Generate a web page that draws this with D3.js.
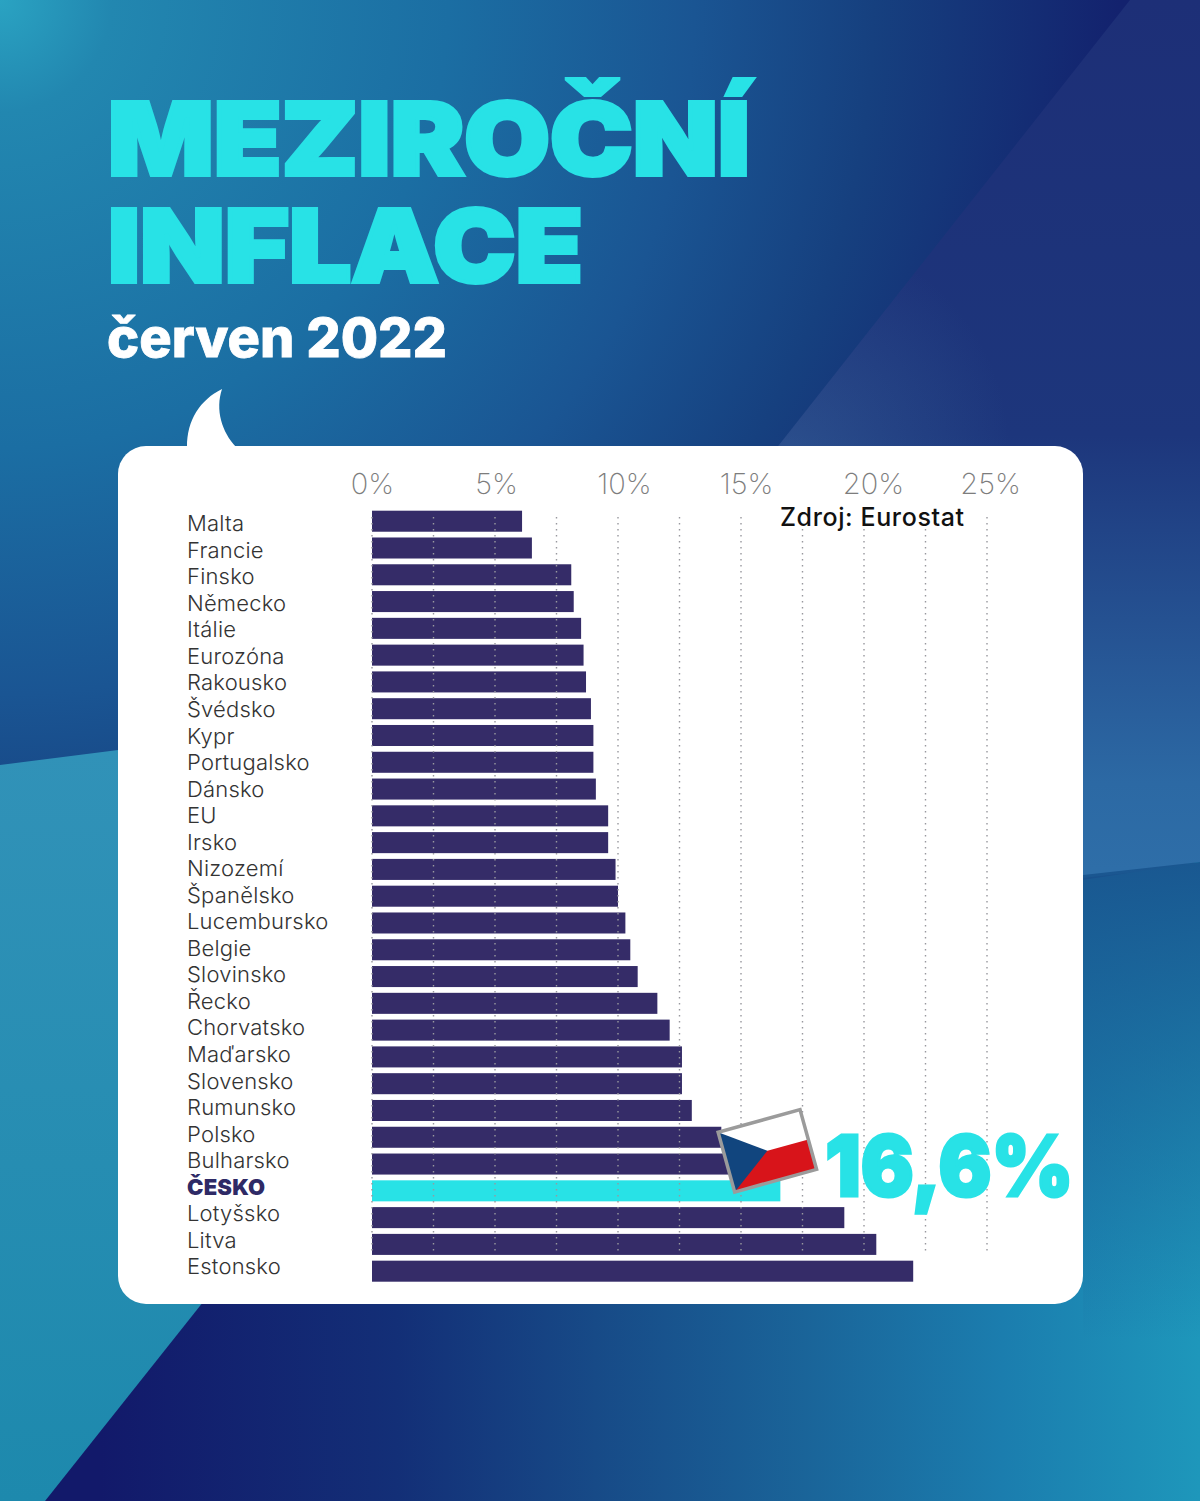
<!DOCTYPE html>
<html>
<head>
<meta charset="utf-8">
<script src="https://cdn.jsdelivr.net/npm/d3@7"></script>
<style>
  html, body { margin: 0; padding: 0; background: #fff; }
  svg { display: block; }
</style>
</head>
<body>
<svg></svg>
<script>
var countries = ["Malta","Francie","Finsko","Německo","Itálie","Eurozóna","Rakousko","Švédsko","Kypr","Portugalsko","Dánsko","EU","Irsko","Nizozemí","Španělsko","Lucembursko","Belgie","Slovinsko","Řecko","Chorvatsko","Maďarsko","Slovensko","Rumunsko","Polsko","Bulharsko","ČESKO","Lotyšsko","Litva","Estonsko"];
var values = [6.1,6.5,8.1,8.2,8.5,8.6,8.7,8.9,9.0,9.0,9.1,9.6,9.6,9.9,10.0,10.3,10.5,10.8,11.6,12.1,12.6,12.6,13.0,14.2,14.8,16.6,19.2,20.5,22.0];
var tickValues = [0,5,10,15,20,25];
var gridValues = [0,2.5,5,7.5,10,12.5,15,17.5,20,22.5,25];
var highlight = "ČESKO";

var width = 1200, height = 1501;
var cyan = "#28e2e6", barColor = "#352c68";

var svg = d3.select("svg").attr("width", width).attr("height", height);
var defs = svg.append("defs");

function gradient(id, kind, attrs, stops) {
  var g = defs.append(kind + "Gradient").attr("id", id).attr("gradientUnits", "userSpaceOnUse");
  Object.keys(attrs).forEach(function(k){ g.attr(k, attrs[k]); });
  stops.forEach(function(s){
    g.append("stop").attr("offset", s[0]).attr("stop-color", s[1]).attr("stop-opacity", s[2] === undefined ? 1 : s[2]);
  });
}

gradient("bgTop", "radial", {cx:0, cy:0, r:1120}, [[0,"#2aa3c2"],[.1,"#2287b0"],[.4,"#1b6ea3"],[.62,"#1a5593"],[.78,"#16407f"],[1,"#13226e"]]);
gradient("bgRight", "linear", {x1:0, y1:0, x2:0, y2:870}, [[0,"#1d2f77"],[.5,"#1d367c"],[.9,"#2c69a4"],[1,"#2e6ea8"]]);
gradient("bgGlow", "radial", {cx:790, cy:450, r:220}, [[0,"#4a86b0",.3],[1,"#4a86b0",0]]);
gradient("bgBottom", "linear", {x1:100, y1:0, x2:1200, y2:0}, [[0,"#12196a"],[.27,"#132f77"],[.45,"#174a87"],[.64,"#1a6499"],[.82,"#1b7dae"],[1,"#1e97bb"]]);
gradient("bgBottomShade", "linear", {x1:0, y1:865, x2:0, y2:1340}, [[0,"#19558f",.95],[1,"#19558f",0]]);
gradient("bgLeft", "linear", {x1:0, y1:750, x2:0, y2:1501}, [[0,"#3192b8"],[1,"#1d89ad"]]);

// background
var bg = svg.append("g");
var poly = function(pts, fill){ bg.append("polygon").attr("points", pts).attr("fill", fill); };
bg.append("rect").attr("width", width).attr("height", height).attr("fill", "url(#bgTop)");
poly("1130,0 1200,0 1200,865 700,920 700,545", "url(#bgRight)");
poly("1130,0 1200,0 1200,865 700,920 700,545", "url(#bgGlow)");
poly("300,1000 1200,862 1200,1501 45,1501 200,1304", "url(#bgBottom)");
poly("1083,875 1200,862 1200,1340 1083,1340", "url(#bgBottomShade)");
poly("0,765 300,727 300,1180 45,1501 0,1501", "url(#bgLeft)");

// title
var title = svg.append("g").attr("font-family", "Inter").attr("font-weight", 900).attr("fill", cyan)
  .attr("stroke", cyan).attr("stroke-width", 4).attr("stroke-linejoin", "miter");
title.append("text").attr("x", 108).attr("y", 174.5).attr("font-size", 101).attr("textLength", 642)
  .attr("lengthAdjust", "spacingAndGlyphs").text("MEZIROČNÍ");
title.append("text").attr("x", 108).attr("y", 282).attr("font-size", 101).attr("textLength", 475)
  .attr("lengthAdjust", "spacingAndGlyphs").text("INFLACE");
svg.append("text").attr("x", 107).attr("y", 357).attr("font-family", "Inter").attr("font-weight", 800)
  .attr("font-size", 54).attr("fill", "#fff").attr("stroke", "#fff").attr("stroke-width", 0.8)
  .attr("textLength", 340).attr("lengthAdjust", "spacingAndGlyphs").text("červen 2022");

// card with speech bubble tail
svg.append("path").attr("fill", "#fff").attr("d", "M187 447C187 420 200 400 222 389C215 410 222 432 236 447Z");
svg.append("rect").attr("x", 118).attr("y", 446).attr("width", 965).attr("height", 858).attr("rx", 28).attr("fill", "#fff");

// scales
var x = d3.scaleLinear().domain([0, 25]).range([372, 987]);
var y = d3.scaleBand().domain(countries).range([510.7, 1281.7]).paddingInner(0.215);
var yLabel = d3.scalePoint().domain(countries).range([524, 1267]);

// bars
svg.append("g").selectAll("rect").data(countries).enter().append("rect")
  .attr("x", x(0))
  .attr("y", function(d){ return y(d); })
  .attr("width", function(d, i){ return x(values[i]) - x(0); })
  .attr("height", y.bandwidth())
  .attr("fill", function(d){ return d === highlight ? cyan : barColor; });

// dotted grid goes over the bars
svg.append("g").selectAll("line").data(gridValues).enter().append("line")
  .attr("x1", function(d){ return x(d); })
  .attr("x2", function(d){ return x(d); })
  .attr("y1", 517).attr("y2", 1255)
  .attr("stroke", "#98989e").attr("stroke-width", 1.4).attr("stroke-dasharray", "1.5 4.5");

// top axis, the labels sit a bit off their gridlines in the original
var labelNudge = [0, 1, 6, 5, 9, 3];
var axis = svg.append("g").attr("transform", "translate(0,494)")
  .call(d3.axisTop(x).tickValues(tickValues).tickFormat(function(d){ return d + "%"; }));
axis.select(".domain").remove();
axis.selectAll("line").remove();
axis.selectAll("text").attr("y", 0).attr("dy", 0)
  .attr("x", function(d, i){ return labelNudge[i]; })
  .attr("font-family", "Inter").attr("font-weight", 200).attr("font-size", 29).attr("fill", "#7d7d7d");

// source
svg.append("rect").attr("x", 778).attr("y", 505).attr("width", 190).attr("height", 22).attr("fill", "#fff");
svg.append("text").attr("x", 780).attr("y", 526).attr("font-family", "Inter").attr("font-weight", 500)
  .attr("font-size", 25).attr("fill", "#111").attr("textLength", 184).text("Zdroj: Eurostat");

// country labels
svg.append("g").selectAll("text").data(countries).enter().append("text")
  .attr("x", 187)
  .attr("y", function(d){ return yLabel(d); })
  .attr("dy", "0.33em")
  .attr("font-family", "Inter")
  .attr("font-size", 22)
  .attr("letter-spacing", 0.2)
  .attr("font-weight", function(d){ return d === highlight ? 900 : 300; })
  .attr("fill", function(d){ return d === highlight ? "#2e2a66" : "#333"; })
  .text(function(d){ return d; });

// flag sits on the end of the highlighted bar
var hiValue = values[countries.indexOf(highlight)];
var flagW = 85, flagH = 62;
var flag = svg.append("g")
  .attr("transform", "translate(" + (x(hiValue) - 13) + "," + (y(highlight) + y.bandwidth() / 2 - 40) + ") rotate(-15.5)");
flag.append("rect").attr("x", -flagW/2).attr("y", -flagH/2).attr("width", flagW).attr("height", flagH).attr("fill", "#fff");
flag.append("rect").attr("x", -flagW/2).attr("y", 0).attr("width", flagW).attr("height", flagH/2).attr("fill", "#d8141a");
flag.append("polygon").attr("points", [[-flagW/2,-flagH/2],[0,0],[-flagW/2,flagH/2]].join(" ")).attr("fill", "#11457e");
flag.append("rect").attr("x", -flagW/2).attr("y", -flagH/2).attr("width", flagW).attr("height", flagH)
  .attr("fill", "none").attr("stroke", "#9b9b9b").attr("stroke-width", 3.5);

// big value
svg.append("text").attr("x", x(hiValue) + 45).attr("y", 1196)
  .attr("font-family", "Inter").attr("font-weight", 900).attr("font-size", 84).attr("fill", cyan)
  .attr("stroke", cyan).attr("stroke-width", 3)
  .attr("textLength", 248).attr("lengthAdjust", "spacingAndGlyphs")
  .text(String(hiValue).replace(".", ",") + "%");
</script>
</body>
</html>
